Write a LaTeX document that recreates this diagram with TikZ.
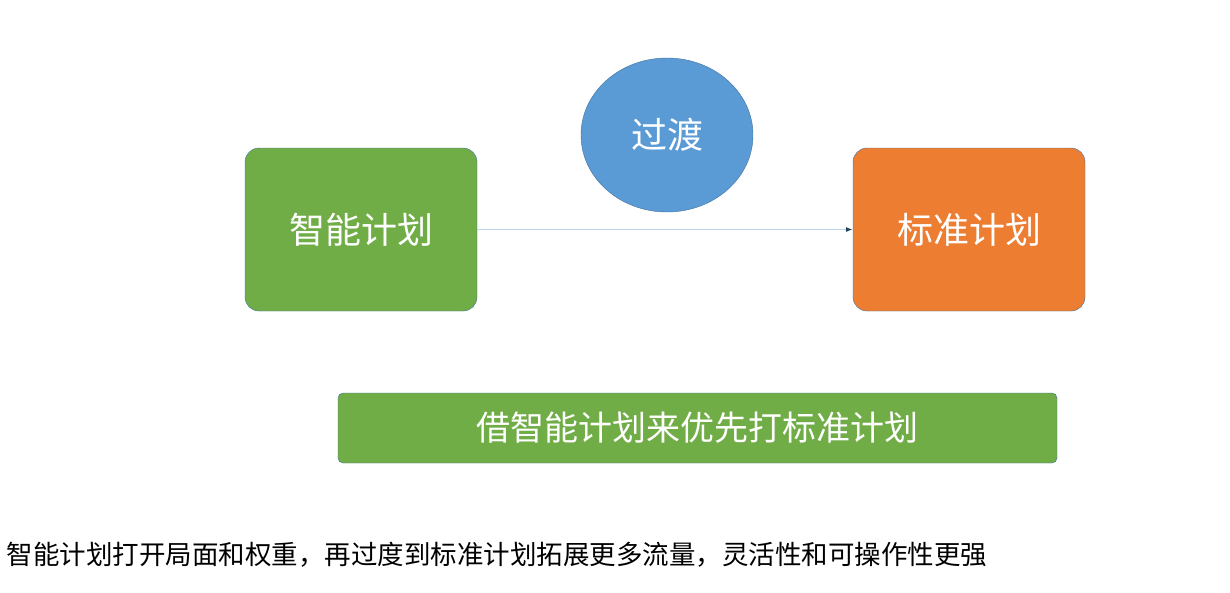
\documentclass[tikz,border=0pt]{standalone}
\usepackage{fontspec}
\setmainfont{Noto Sans CJK SC}
\usetikzlibrary{shapes.geometric,arrows.meta}
\definecolor{plangreen}{HTML}{70AD47}
\definecolor{planorange}{HTML}{ED7D31}
\definecolor{planblue}{HTML}{5B9BD5}
\definecolor{planedge}{HTML}{41719C}
\tikzset{
  planbox/.style={draw=planedge,rounded corners=14pt,minimum width=232pt,minimum height=163pt,text=white,font=\fontsize{36}{40}\selectfont},
}
\begin{document}
\begin{tikzpicture}[x=1pt,y=-1pt]
  \useasboundingbox (0,0) rectangle (1230,592);
  \node[planbox,fill=plangreen] (smart) at (361,229.5) {智能计划};
  \node[planbox,fill=planorange] (standard) at (969,229.5) {标准计划};
  \node[ellipse,draw=planedge,fill=planblue,minimum width=172pt,minimum height=154pt,text=white,font=\fontsize{36}{40}\selectfont] (shift) at (667,135) {过渡};
  \draw[-{Latex[length=7pt]},planblue!40,line width=0.6pt] (smart) -- (standard);
  \draw[planblue!40!black,-{Latex[length=7pt]},draw opacity=0] (smart) -- (standard);
  \node[draw=planedge,fill=plangreen,rounded corners=5pt,minimum width=719pt,minimum height=70pt,text=white,font=\fontsize{34}{38}\selectfont] (slogan) at (697.5,428) {借智能计划来优先打标准计划};
  \node[anchor=west,font=\fontsize{26.5}{30}\selectfont] (note) at (3,555) {智能计划打开局面和权重，再过度到标准计划拓展更多流量，灵活性和可操作性更强};
\end{tikzpicture}
\end{document}
